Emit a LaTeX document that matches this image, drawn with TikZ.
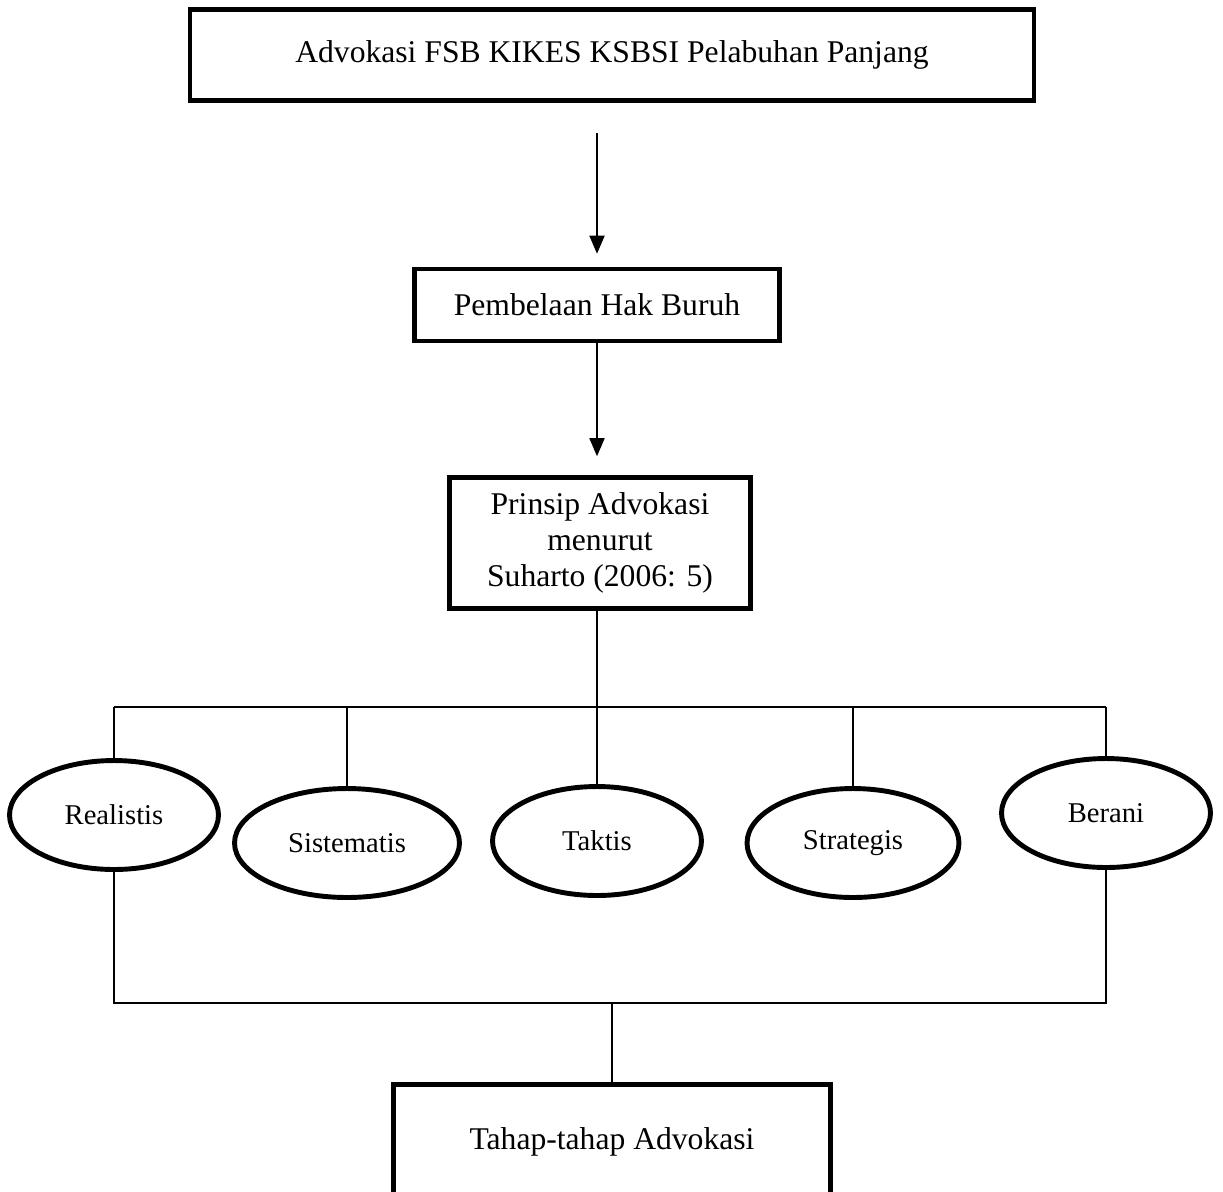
\documentclass[tikz,border=0pt]{standalone}
\usepackage{fontspec}
\setmainfont{Liberation Serif}
\usetikzlibrary{arrows.meta,positioning,shapes.geometric}

\begin{document}
\begin{tikzpicture}[x=0.02cm, y=-0.02cm]

\tikzstyle{box} = [rectangle, draw, line width=2.6pt, align=center, inner sep=0pt, font=\fontsize{18}{20.7}\selectfont]
\tikzstyle{oval} = [ellipse, draw, line width=2.8pt, minimum width=4.18cm, minimum height=2.18cm, inner sep=0pt, font=\fontsize{16.3}{19}\selectfont]
\tikzstyle{arrow} = [line width=1pt, -{Triangle[width=0.3cm, length=0.36cm]}]
\tikzstyle{line} = [line width=1pt]

\useasboundingbox (0,0) rectangle (1223,1191);

% Boxes
\node (advokasi) [box, minimum width=16.88cm, minimum height=1.82cm] at (612,55) {Advokasi FSB KIKES KSBSI Pelabuhan Panjang};
\node (hak) [box, minimum width=7.3cm, minimum height=1.44cm] at (597,305) {Pembelaan Hak Buruh};
\node (prinsip) [box, minimum width=6.02cm, minimum height=2.62cm] at (600,543) {Prinsip Advokasi\\menurut\\Suharto (2006: 5)};
\node (tahap) [box, minimum width=8.74cm, minimum height=2.3cm] at (612,1142) {Tahap-tahap Advokasi};

% Principles
\node (realistis) [oval] at (114,815) {Realistis};
\node (sistematis) [oval, minimum width=4.5cm] at (347,843) {Sistematis};
\node (taktis) [oval] at (597,841) {Taktis};
\node (strategis) [oval, minimum width=4.24cm] at (853,843) {Strategis};
\node (berani) [oval] at (1106,813) {Berani};

\coordinate (start) at (597,133);
\coordinate (split) at (597,707);
\coordinate (join) at (612,1003);

% Arrows
\draw [arrow, shorten >=0.26cm] (start) -- (hak.north);
\draw [arrow, shorten >=0.38cm] (hak.south -| start) -- (prinsip.north -| start);

% Branches
\draw [line] (prinsip.south -| split) -- (split);
\draw [line] (realistis.north |- split) -- (berani.north |- split);
\foreach \p in {realistis, sistematis, taktis, strategis, berani}
  \draw [line] (\p.north |- split) -- (\p.north);

\draw [line] (realistis.south) -- (realistis.south |- join) -- (berani.south |- join) -- (berani.south);
\draw [line] (join) -- (tahap.north);

\end{tikzpicture}
\end{document}
